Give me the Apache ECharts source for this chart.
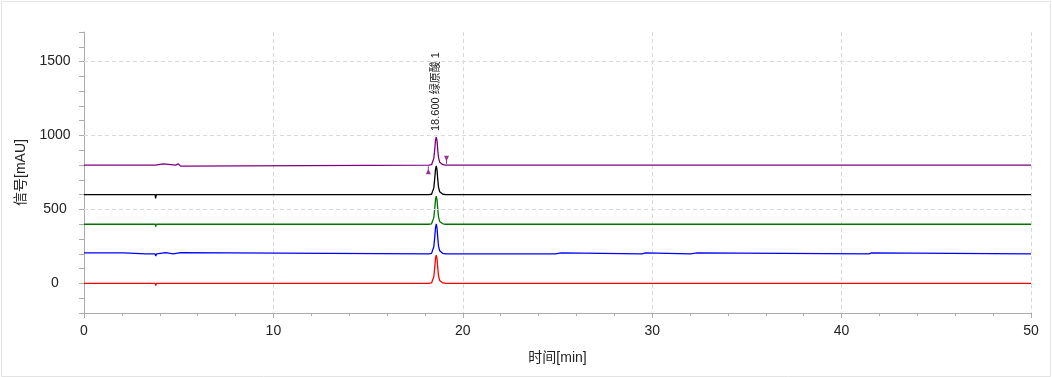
<!DOCTYPE html>
<html><head><meta charset="utf-8">
<script src="https://cdn.jsdelivr.net/npm/echarts@6/dist/echarts.min.js"></script>
<style>html,body{margin:0;padding:0;background:#fff}#c{width:1052px;height:377px}</style>
</head><body><div id="c"></div>
<script>
// ---- data ----
const traceNames   = ['red', 'blue', 'green', 'black', 'purple'];
const traceOffsets = [0, 200, 400, 600, 800];           // mAU baseline offset of each trace
const peakTimes  = [18.20, 18.35, 18.42, 18.47, 18.52, 18.56, 18.60, 18.64, 18.68, 18.72, 18.78, 18.85, 18.95, 19.10];
const redPeak    = [0, 3, 12, 45, 110, 170, 191, 165, 100, 50, 20, 8, 3, 0];
const bluePeak   = [0, 3, 13, 48, 115, 178, 202, 172, 105, 52, 21, 8, 3, 0];
const greenPeak  = [0, 3, 12, 45, 108, 168, 190, 163, 98, 48, 19, 8, 3, 0];
const blackPeak  = [0, 3, 12, 46, 112, 172, 195, 166, 100, 50, 20, 8, 3, 0];
const purplePeak = [0, 3, 12, 45, 110, 168, 190, 164, 99, 49, 20, 8, 3, 0];
const redBase    = [[0,0],[3.76,0],[3.79,-14],[3.82,0],[5.09,0],[5.12,-7],[5.15,0],[50,0]];
const blueBase   = [[0,6],[2.08,6],[2.10,0],[3.28,0],[3.30,6],[3.36,6],[3.38,0],[3.75,0],[3.79,-15],[3.83,0],[3.87,8],[4.32,8],[4.34,0],[4.70,0],[4.72,8],[5.10,8],[5.12,-3],[5.16,0],
                    [24.90,0],[24.92,7],[25.20,7],[25.22,0],[29.46,0],[29.48,7],[29.64,7],[29.66,0],[32.02,0],[32.04,7],[32.38,7],[32.40,0],[41.45,0],[41.47,7],[41.58,7],[41.60,0],[50,0]];
const greenBase  = [[0,0],[3.76,0],[3.79,-15],[3.82,0],[3.87,9],[3.90,0],[5.10,0],[5.12,-8],[5.15,0],[50,0]];
const blackBase  = [[0,0],[3.76,0],[3.78,-25],[3.82,0],[5.10,0],[5.12,-8],[5.15,0],[50,0]];
const purpleBase = [[0,0],[3.75,0],[3.78,-13],[3.82,0],[3.85,9],[4.19,9],[4.21,0],[4.84,0],[4.86,9],[4.97,9],[4.99,0],[5.07,0],[5.10,-7],[5.17,0],[50,0]];
const markerTimes  = [18.18, 19.14];      // peak start / end marks on purple trace
const markerValues = [765, 836];
const peakLabelTime  = 18.6;
const peakLabelValue = 990;
const peakLabelText  = '18.600 绿原酸 1';
const xTickLabels = [0, 10, 20, 30, 40, 50];
const yTickLabels = [0, 500, 1000, 1500];
// ---------------------------------------

const peaks = [redPeak, bluePeak, greenPeak, blackPeak, purplePeak];
const bases = [redBase, blueBase, greenBase, blackBase, purpleBase];
const colors = ['#ff0000', '#0000ff', '#007000', '#000000', '#800080'];
const F = "Arial, 'Liberation Sans', 'Noto Sans CJK SC', sans-serif";
const AX = '#ababab';

function buildData(i) {
  const pts = bases[i].concat(peakTimes.map((t, k) => [t, peaks[i][k]]));
  pts.sort((a, b) => a[0] - b[0]);
  return pts.map(p => [p[0], p[1] + traceOffsets[i]]);
}

const series = [{
  type: 'line', data: [], z: 1, silent: true,
  markLine: {
    silent: true, symbol: ['none', 'none'], animation: false,
    label: {show: false},
    lineStyle: {color: '#d9d9d9', type: [4, 3], width: 1},
    data: yTickLabels.filter(v => v !== 0).map(v => ({yAxis: v}))
  }
}];
traceNames.forEach((n, i) => {
  const s = {
    name: n, type: 'line', data: buildData(i), z: 2 + i,
    showSymbol: false, symbol: 'none', sampling: null, silent: true,
    lineStyle: {color: colors[i], width: 1.3},
    itemStyle: {color: colors[i]}
  };
  if (n === 'purple') {
    s.markPoint = {
      silent: true, animation: false, symbol: 'circle', symbolSize: 1,
      itemStyle: {color: 'rgba(0,0,0,0)'},
      data: [{coord: [peakLabelTime, peakLabelValue]}],
      label: {show: true, formatter: peakLabelText, position: 'inside', rotate: 90,
              align: 'left', verticalAlign: 'middle', offset: [6, 0],
              color: '#222', fontSize: 11, fontFamily: F}
    };
  }
  series.push(s);
});
const upMark   = 'path://M4,0 L6,0 L6,7 L10,16 L0,16 L4,7 Z';
const downMark = 'path://M0,0 L10,0 L6,9 L6,16 L4,16 L4,9 Z';
series.push({
  type: 'scatter', z: 10, silent: true,
  data: markerTimes.map((t, i) => ({value: [t, markerValues[i]], symbol: i === 0 ? upMark : downMark})),
  symbolSize: [5, 8], itemStyle: {color: '#800080'}
});

const chart = echarts.init(document.getElementById('c'), null, {renderer: 'canvas'});
chart.setOption({
  animation: false,
  backgroundColor: '#fff',
  grid: {left: 84, right: 21, top: 32, bottom: 64, containLabel: false},
  graphic: [{type: 'rect', silent: true, z: -10,
             shape: {x: 1.5, y: 1.5, width: 1049, height: 375},
             style: {fill: 'none', stroke: '#e3e3e3', lineWidth: 1}}],
  xAxis: {
    type: 'value', min: 0, max: 50, interval: 10,
    name: '时间[min]', nameLocation: 'middle', nameGap: 38,
    nameTextStyle: {color: '#222', fontSize: 14, fontFamily: F},
    axisLine: {show: true, onZero: false, lineStyle: {color: AX, width: 1}},
    axisTick: {show: true, length: 5, lineStyle: {color: AX}},
    minorTick: {show: true, splitNumber: 5, length: 3, lineStyle: {color: AX}},
    axisLabel: {color: '#222', fontSize: 14, fontFamily: F, margin: 11,
                formatter: v => xTickLabels.includes(v) ? String(v) : ''},
    splitLine: {show: true, lineStyle: {color: '#d9d9d9', type: [4, 3], width: 1}},
    minorSplitLine: {show: false}
  },
  yAxis: {
    type: 'value', min: -200, max: 1700, interval: 100,
    name: '信号[mAU]', nameLocation: 'middle', nameGap: 56, nameRotate: 90,
    nameTextStyle: {color: '#222', fontSize: 14, fontFamily: F},
    axisLine: {show: true, onZero: false, lineStyle: {color: AX, width: 1}},
    axisTick: {show: true, length: 5, lineStyle: {color: AX}},
    axisLabel: {color: '#222', fontSize: 14, fontFamily: F, margin: 29, align: 'center',
                formatter: v => yTickLabels.includes(v) ? String(v) : ''},
    splitLine: {show: false}
  },
  series: series
});
</script></body></html>
